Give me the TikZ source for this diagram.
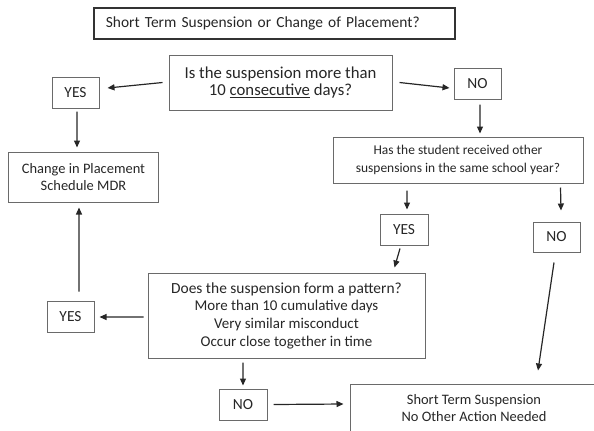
\documentclass[tikz,border=0pt]{standalone}
\usepackage{fontspec}
\setmainfont{Carlito}
\usetikzlibrary{arrows.meta}
\definecolor{txt}{HTML}{262626}
\definecolor{bord}{HTML}{6A6A6A}
\tikzset{
  box/.style={draw=bord, line width=1bp, text=txt, align=center, inner sep=0pt},
  ans/.style={box, minimum width=47bp, minimum height=31bp, font=\fontsize{15.5}{17}\selectfont},
  arr/.style={line width=1.2bp, draw=black!85, -{Triangle[length=7bp,width=6bp]}},
}
\begin{document}
\begin{tikzpicture}[x=1bp,y=-1bp]
\useasboundingbox (0,0) rectangle (594,430);
% title
\node[draw=black!80, line width=1.7bp, text=txt, anchor=west, text width=337bp, align=left,
      inner xsep=12bp, minimum height=31bp, font=\fontsize{15.5}{18}\selectfont] (title) at (93,23.5)
      {Short Term Suspension or Change of Placement?};
% question 1
\node[box, minimum width=223bp, minimum height=55bp, font=\fontsize{16.8}{18}\selectfont] (q1) at (280.5,82.5)
      {Is the suspension more than\\10 \underline{consecutive} days?};
\node[ans] (yes1) at (75.5,92.5) {YES};
\node[ans] (no1) at (477.5,83.5) {NO};
% change in placement
\node[box, minimum width=149bp, minimum height=50bp, font=\fontsize{14.5}{17}\selectfont] (chg) at (83.5,177)
      {Change in Placement\\Schedule MDR};
% question 2
\node[box, minimum width=250bp, minimum height=46bp, font=\fontsize{13.5}{18}\selectfont] (q2) at (458,160)
      {Has the student received other\\suspensions in the same school year?};
\node[ans, minimum width=48bp] (yes2) at (404,229.5) {YES};
\node[ans, minimum height=30bp] (no2) at (556.5,237) {NO};
% question 3
\node[box, minimum width=277bp, minimum height=85bp, font=\fontsize{15}{17.7}\selectfont] (q3) at (286.5,315.5)
      {{\fontsize{15.5}{17.7}\selectfont Does the suspension form a pattern?}\\More than 10 cumulative days\\Very similar misconduct\\Occur close together in time};
\node[ans] (yes3) at (70.5,316.5) {YES};
\node[ans, minimum width=48bp] (no3) at (243,404.5) {NO};
% final
\node[box, minimum width=248bp, minimum height=48bp, font=\fontsize{14.5}{18}\selectfont] (fin) at (474,408)
      {Short Term Suspension\\No Other Action Needed};
% connectors
\draw[arr] ([xshift=-6bp]q1.west) -- ([xshift=8bp,yshift=4.5bp]yes1.east);
\draw[arr] ([xshift=7bp]q1.east) -- ([xshift=-4bp,yshift=-4.5bp]no1.west);
\draw[arr] ([xshift=2.5bp,yshift=-5bp]no1.south) -- ([xshift=22bp,yshift=3bp]q2.north);
\draw[arr] ([xshift=1.5bp,yshift=-3bp]yes1.south) -- ([xshift=-6.5bp,yshift=4bp]chg.north);
\draw[arr] ([xshift=-51bp,yshift=-7bp]q2.south) -- ([xshift=3bp,yshift=4bp]yes2.north);
\draw[arr] ([xshift=-23bp,yshift=-4bp]q2.south east) -- ([xshift=4.5bp,yshift=11bp]no2.north);
\draw[arr] ([xshift=-4bp,yshift=-3bp]yes2.south) -- ([xshift=-31bp,yshift=5bp]q3.north east);
\draw[arr] ([xshift=8.5bp,yshift=9bp]yes3.north) -- ([xshift=-4.5bp,yshift=-5bp]chg.south);
\draw[arr] ([xshift=-4bp,yshift=-1.5bp]q3.west) -- ([xshift=5bp,yshift=-0.5bp]yes3.east);
\draw[arr] ([xshift=-43.5bp,yshift=-4bp]q3.south) -- ([yshift=3bp]no3.north);
\draw[arr] ([xshift=6bp]no3.east) -- ([xshift=-6bp,yshift=4bp]fin.west);
\draw[arr] ([xshift=-2.5bp,yshift=-10bp]no2.south) -- ([xshift=64bp,yshift=13bp]fin.north);
\end{tikzpicture}
\end{document}
